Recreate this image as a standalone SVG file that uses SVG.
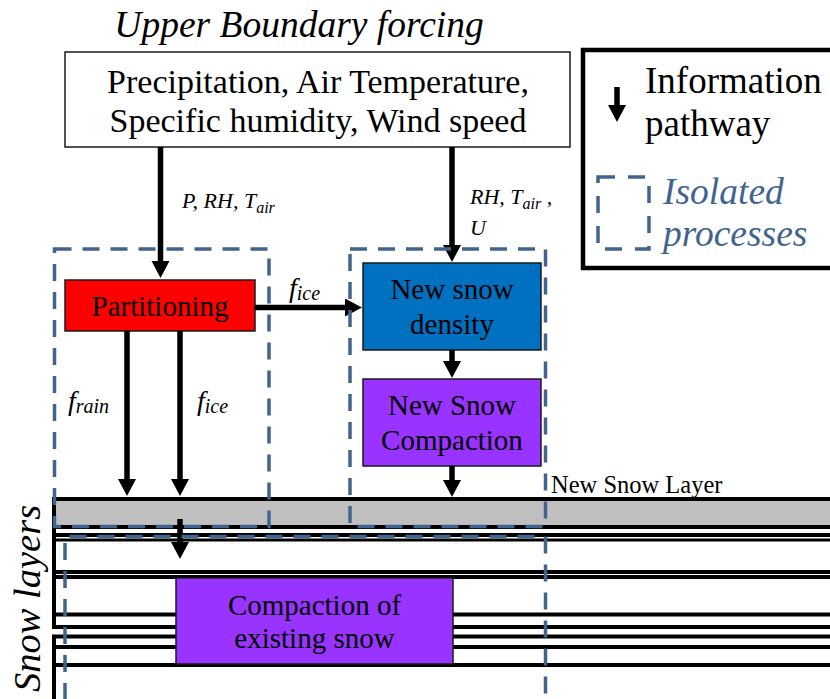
<svg xmlns="http://www.w3.org/2000/svg" width="830" height="699" viewBox="0 0 830 699">
<style>
text{font-family:'Liberation Serif','DejaVu Serif','Noto Serif',serif;fill:#000}
.i{font-style:italic}
.node{stroke:#1a1a1a;stroke-width:1.5}
.lay{stroke:#000;stroke-width:4;fill:none}
.dash{fill:none;stroke:#41648F;stroke-width:3.5;stroke-dasharray:17 11}
.arr{stroke:#000;stroke-width:5.5;fill:none;marker-end:url(#ah)}
.blue{fill:#41648F}
</style>
<defs>
<marker id="ah" markerUnits="userSpaceOnUse" markerWidth="20" markerHeight="20" refX="1" refY="9" orient="auto">
<path d="M0,0 L17,9 L0,18 z" fill="#000"/>
</marker>
</defs>
<rect width="830" height="699" fill="#fff"/>

<text class="i" x="299" y="37" font-size="37.5" text-anchor="middle">Upper Boundary forcing</text>

<g id="layers">
<rect x="54" y="500" width="800" height="26" fill="#BFBFBF"/>
<path class="lay" d="M832,499 H54 V627 H832"/>
<path class="lay" d="M54,527 H832 M54,535 H832 M54,572 H832 M54,577 H832 M54,614.5 H832"/>
<path d="M54,540 H832" stroke="#000" stroke-width="3"/>
<path class="lay" d="M832,636.5 H54 V702 M54,647 H832 M54,665 H832"/>
<text x="551" y="493" font-size="24.5">New Snow Layer</text>
</g>

<text class="i" transform="translate(40,692) rotate(-90)" font-size="38.5">Snow layers</text>

<g id="forcing">
<rect class="node" x="65" y="52" width="505" height="95" fill="#fff"/>
<text x="318" y="93" font-size="34" text-anchor="middle">Precipitation, Air Temperature,</text>
<text x="318" y="132" font-size="34" text-anchor="middle">Specific humidity, Wind speed</text>
</g>

<g id="partitioning">
<rect class="node" x="65" y="280" width="190" height="51" fill="#FF0000"/>
<text x="160" y="316" font-size="29" text-anchor="middle">Partitioning</text>
</g>

<g id="new-snow-density">
<rect class="node" x="363" y="263" width="178" height="87" fill="#0070C0"/>
<text x="452" y="299" font-size="29" text-anchor="middle">New snow</text>
<text x="452" y="334" font-size="29" text-anchor="middle">density</text>
</g>

<g id="new-snow-compaction">
<rect class="node" x="363" y="379" width="178" height="87" fill="#9933FF"/>
<text x="452" y="415" font-size="29" text-anchor="middle">New Snow</text>
<text x="452" y="450" font-size="29" text-anchor="middle">Compaction</text>
</g>

<g id="compaction-existing">
<rect class="node" x="176" y="578" width="277" height="86" fill="#9933FF"/>
<text x="314.5" y="615" font-size="29" text-anchor="middle">Compaction of</text>
<text x="314.5" y="648" font-size="29" text-anchor="middle">existing snow</text>
</g>

<g id="connectors">
<path class="arr" d="M160.5,147 V262"/>
<path class="arr" d="M452,147 V246"/>
<path class="arr" d="M127,331 V480"/>
<path class="arr" d="M180,331 V480"/>
<path class="arr" d="M255,307.5 H346"/>
<path class="arr" d="M452,350 V362"/>
<path class="arr" d="M452,466 V481"/>
<path class="arr" d="M180,519 V543"/>
<text class="i" x="182" y="208" font-size="22">P, RH, T<tspan font-size="16" dy="5">air</tspan></text>
<text class="i" x="470" y="204" font-size="22">RH, T<tspan font-size="16" dy="5">air</tspan><tspan dy="-5"> ,</tspan></text>
<text class="i" x="470" y="235" font-size="22">U</text>
<text class="i" x="68" y="410" font-size="28">f<tspan font-size="20" dy="3">rain</tspan></text>
<text class="i" x="197" y="410" font-size="28">f<tspan font-size="20" dy="3">ice</tspan></text>
<text class="i" x="289" y="297" font-size="28">f<tspan font-size="20" dy="3">ice</tspan></text>
</g>

<g id="isolated">
<rect class="dash" x="54.5" y="249" width="214.5" height="277.5"/>
<rect class="dash" x="350" y="249" width="195.5" height="277.5"/>
<path class="dash" d="M65,700 V536.5 H545.5 V700"/>
</g>

<g id="legend">
<rect x="583" y="50" width="260" height="218" fill="#fff" stroke="#000" stroke-width="4.5"/>
<path class="arr" d="M617,87 V106"/>
<text x="645" y="93" font-size="37">Information</text>
<text x="645" y="136" font-size="37">pathway</text>
<rect x="598" y="177" width="51" height="72" fill="none" stroke="#41648F" stroke-width="3.5" stroke-dasharray="17 13"/>
<text class="i blue" x="663" y="204" font-size="37.5">Isolated</text>
<text class="i blue" x="663" y="246" font-size="37.5">processes</text>
</g>
</svg>
